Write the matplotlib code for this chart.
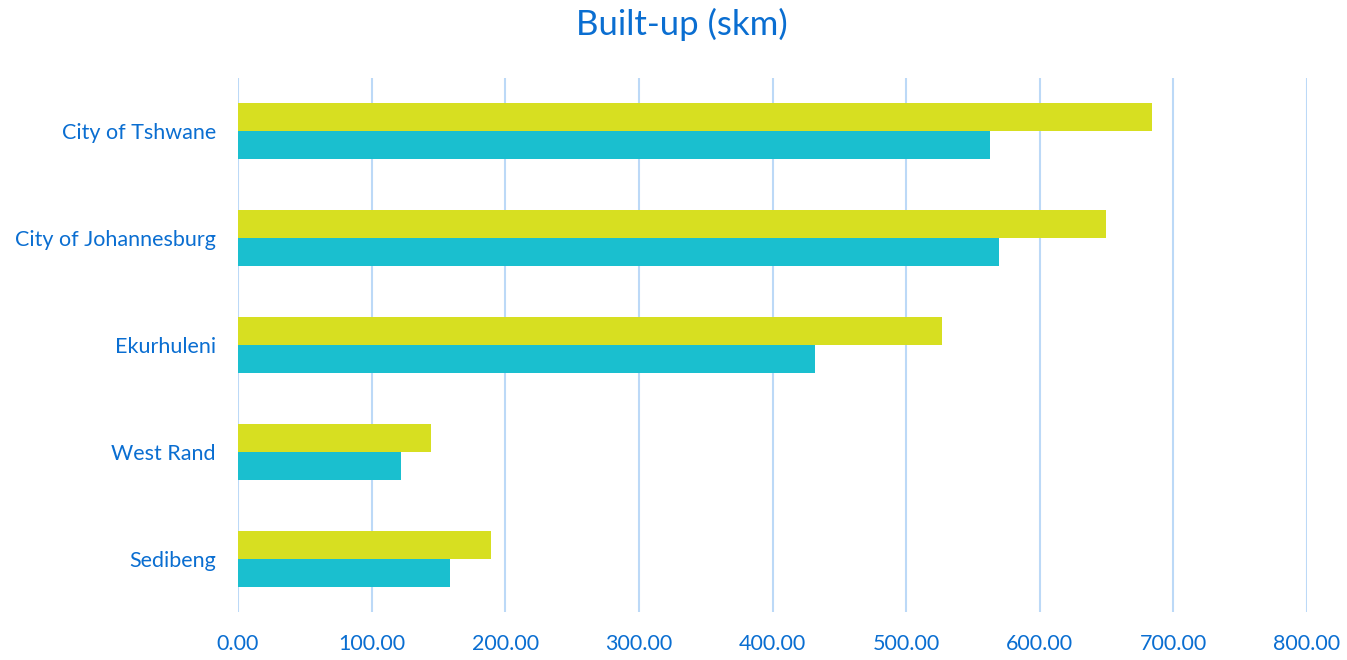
import matplotlib.pyplot as plt
import numpy as np

plt.rcParams['font.family'] = ['Lato', 'DejaVu Sans']

regions = ['City of Tshwane', 'City of Johannesburg', 'Ekurhuleni', 'West Rand', 'Sedibeng']
built_a = [684.3, 649.4, 527.0, 144.7, 189.4]   # yellow bars (upper)
built_b = [563.1, 569.8, 431.8, 121.8, 158.7]   # teal bars (lower)
ticks = [0, 100, 200, 300, 400, 500, 600, 700, 800]

txt = '#0A6ED1'
yellow = '#D7DF21'
teal = '#1ABFCF'

fig = plt.figure(figsize=(13.47, 6.6), dpi=100)
ax = fig.add_axes([238/1347, 1 - 612/660, (1307-238)/1347, (612-78)/660])

y = np.arange(len(regions))
h = 0.262
ax.barh(y - h/2, built_a, height=h, color=yellow, zorder=3)
ax.barh(y + h/2, built_b, height=h, color=teal, zorder=3)

ax.set_xlim(0, 800)
ax.set_ylim(len(regions) - 0.5, -0.5)
ax.set_xticks(ticks)
ax.set_xticklabels(['%.2f' % t for t in ticks])
ax.set_yticks(y)
ax.set_yticklabels(regions)
ax.tick_params(length=0, labelcolor=txt, labelsize=15.5)
ax.tick_params(axis='x', pad=16)
ax.tick_params(axis='y', pad=16)
ax.grid(axis='x', color='#BCD9F7', linewidth=1.5, zorder=0)
for s in ax.spines.values():
    s.set_visible(False)

fig.text(682/1347, 1 - 24/660, 'Built-up (skm)', ha='center', va='center', color=txt, fontsize=25)

fig.savefig('out.png', dpi=100)
